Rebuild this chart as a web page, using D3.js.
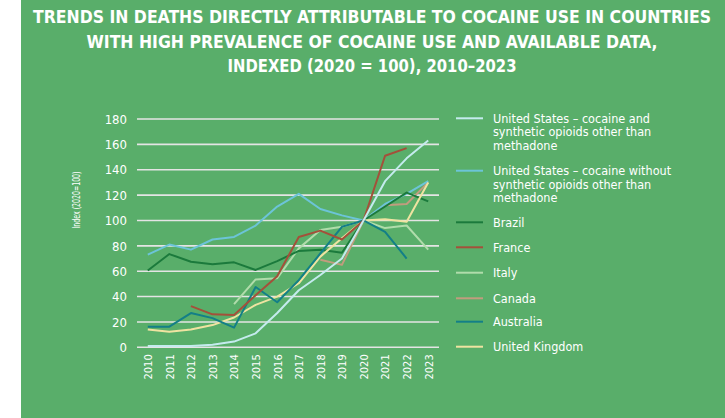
<!DOCTYPE html>
<html>
<head>
<meta charset="utf-8">
<script src="https://cdn.jsdelivr.net/npm/d3@7"></script>
<style>
  html, body { margin: 0; padding: 0; background: #ffffff; }
  svg { display: block; }
  text { font-family: "DejaVu Sans Condensed", "Open Sans", sans-serif; fill: #ffffff; }
</style>
</head>
<body>
<svg id="chart" width="725" height="418"></svg>
<script>
// Years on the x axis
const years = [2010, 2011, 2012, 2013, 2014, 2015, 2016, 2017, 2018, 2019, 2020, 2021, 2022, 2023];

// Index values (2020 = 100); null where no data is reported
const usWithSynthetic    = [1, 1, 1, 2, 4.5, 11, 27, 45, 57, 70, 100, 131, 149, 163];
const usWithoutSynthetic = [73, 81, 77, 85, 87, 96, 111, 121, 109, 104, 100, 113, 121, 131];
const brazil    = [60.5, 73.5, 67.5, 65.5, 67, 61, 68, 76, 77, 74.5, 100, 111, 122, 115];
const france    = [null, null, 32.5, 26, 25.5, 41, 56, 87, 92, 85, 100, 151, 157, null];
const italy     = [null, null, null, null, 34, 53.5, 54.5, 78, 92.5, 95, 100, 94, 96, 77];
const canada    = [null, null, null, null, null, null, null, null, 69, 65, 100, 112, 113, 130];
const australia = [16.3, 16.3, 27, 23, 15.5, 47.5, 35.5, 53, 74, 95, 100, 91, 70, null];
const uk        = [14, 12.3, 14, 17.5, 23.5, 33.5, 40, 50.5, 71.5, 86, 100, 101, 99, 130];

// Series order, legend text and line colours
const seriesNames = [
  ["United States \u2013 cocaine and", "synthetic opioids other than", "methadone"],
  ["United States \u2013 cocaine without", "synthetic opioids other than", "methadone"],
  ["Brazil"], ["France"], ["Italy"], ["Canada"], ["Australia"], ["United Kingdom"]
];
const seriesValues = [usWithSynthetic, usWithoutSynthetic, brazil, france, italy, canada, australia, uk];
const seriesColors = ["#c4ebee", "#6cc4d8", "#1b7a3c", "#a4503a", "#b0dcab", "#c19c7e", "#137f87", "#efe3a1"];
// Draw order: earlier drawn first, last on top
const drawOrder = [4, 5, 1, 2, 7, 6, 3, 0];

const yTicks = [0, 20, 40, 60, 80, 100, 120, 140, 160, 180];
const titleLines = [
  "TRENDS IN DEATHS DIRECTLY ATTRIBUTABLE TO COCAINE USE IN COUNTRIES",
  "WITH HIGH PREVALENCE OF COCAINE USE AND AVAILABLE DATA,",
  "INDEXED (2020 = 100), 2010\u20132023"
];
const titleWidths = [678, 571, 289];

const svg = d3.select("#chart");

// Panel background
svg.append("rect")
  .attr("x", 21).attr("y", 0)
  .attr("width", 704).attr("height", 418)
  .attr("fill", "#59ae6a");

// Title
svg.append("g").selectAll("text")
  .data(titleLines)
  .join("text")
  .attr("x", 372)
  .attr("y", (d, i) => 23 + i * 24.5)
  .attr("text-anchor", "middle")
  .attr("font-size", 17)
  .attr("font-weight", "bold")
  .attr("textLength", (d, i) => titleWidths[i])
  .attr("lengthAdjust", "spacingAndGlyphs")
  .text(d => d);

// Scales
const plotLeft = 137, plotRight = 439;
const x = d3.scalePoint().domain(years).range([plotLeft, plotRight]).padding(0.5);
const y = d3.scaleLinear().domain([0, 180]).range([347.3, 119]);

// Grid lines
svg.append("g").selectAll("line")
  .data(yTicks)
  .join("line")
  .attr("x1", plotLeft).attr("x2", plotRight)
  .attr("y1", d => y(d)).attr("y2", d => y(d))
  .attr("stroke", "#e4e4e4")
  .attr("stroke-width", 1.6);

// Y axis
const yAxis = svg.append("g")
  .attr("transform", `translate(${plotLeft - 10},0)`)
  .call(d3.axisLeft(y).tickValues(yTicks).tickSize(0).tickPadding(0));
yAxis.select(".domain").remove();
yAxis.selectAll("text")
  .attr("font-size", 13)
  .attr("fill", "#ffffff")
  .style("font-family", "\"DejaVu Sans Condensed\", sans-serif");

// X axis, labels rotated to read upward
const xAxis = svg.append("g")
  .attr("transform", `translate(0,${y(0) + 7})`)
  .call(d3.axisBottom(x).tickSize(0).tickPadding(0));
xAxis.select(".domain").remove();
xAxis.selectAll("text")
  .attr("font-size", 11)
  .attr("fill", "#ffffff")
  .attr("transform", "rotate(-90)")
  .attr("text-anchor", "end")
  .attr("dx", 0)
  .attr("dy", "0.35em")
  .attr("x", 0)
  .attr("y", 0)
  .style("font-family", "\"DejaVu Sans Condensed\", sans-serif");

// Y axis title
svg.append("text")
  .attr("transform", `translate(76,200) rotate(-90)`)
  .attr("text-anchor", "middle")
  .attr("dy", "0.35em")
  .attr("font-size", 10)
  .attr("textLength", 57)
  .attr("lengthAdjust", "spacingAndGlyphs")
  .text("Index (2020=100)");

// Lines
const line = d3.line()
  .defined(d => d.v !== null)
  .x(d => x(d.year))
  .y(d => y(d.v));

svg.append("g").selectAll("path")
  .data(drawOrder)
  .join("path")
  .attr("d", i => line(years.map((yr, k) => ({ year: yr, v: seriesValues[i][k] }))))
  .attr("fill", "none")
  .attr("stroke", i => seriesColors[i])
  .attr("stroke-width", 2)
  .attr("stroke-linejoin", "round");

// Legend
const legendRows = [118.3, 170.7, 222.3, 247.3, 272.7, 298.3, 321.7, 346.7];
const legend = svg.append("g");
seriesNames.forEach((lines, i) => {
  const g = legend.append("g").attr("transform", `translate(0,${legendRows[i]})`);
  g.append("line")
    .attr("x1", 456).attr("x2", 483)
    .attr("y1", 0).attr("y2", 0)
    .attr("stroke", seriesColors[i])
    .attr("stroke-width", 2);
  g.selectAll("text")
    .data(lines)
    .join("text")
    .attr("x", 493)
    .attr("y", (d, k) => k * 13.7)
    .attr("dy", "0.35em")
    .attr("font-size", 12.5)
    .text(d => d);
});
</script>
</body>
</html>
